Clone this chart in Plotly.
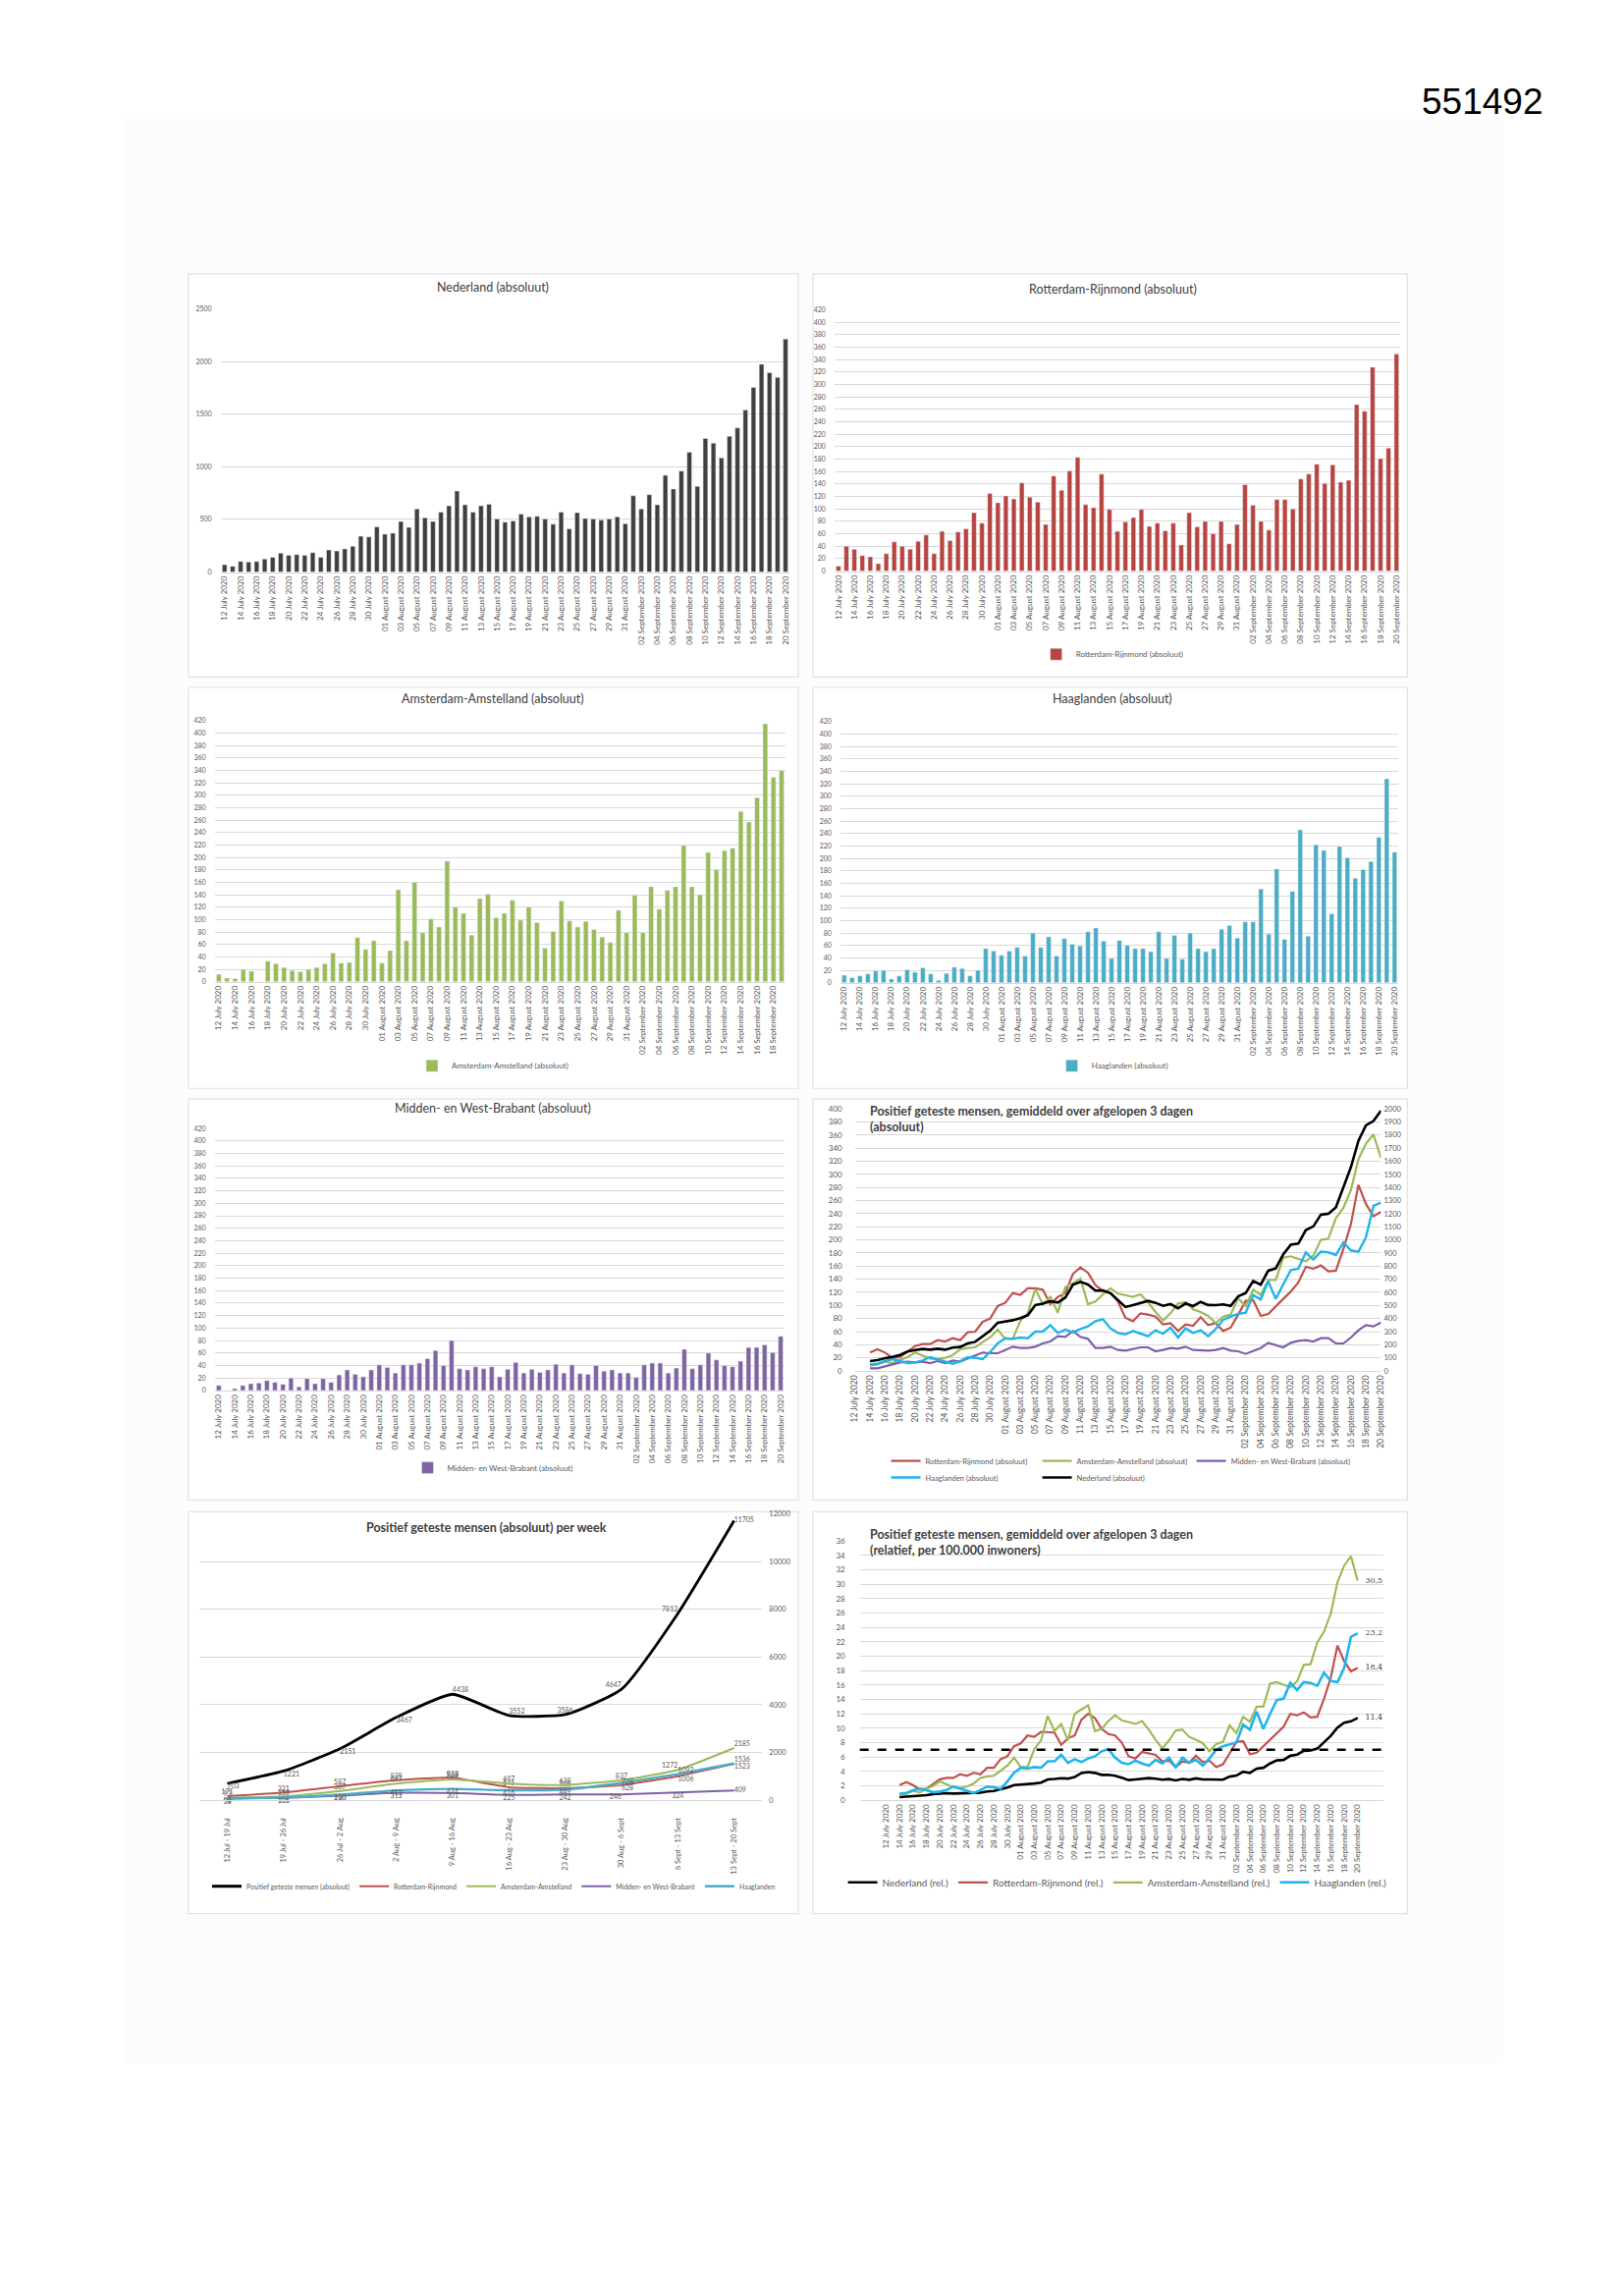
import pandas as pd
import plotly.graph_objects as go

W, H = 1654, 2338

# categorieen (x-as)
DATUMS = [d.strftime("%d %B %Y") for d in pd.date_range("2020-07-12", "2020-09-20")]
DATUMS_AA = DATUMS[:70]  # Amsterdam-Amstelland staat t/m 19 september in de grafiek
WEKEN = ["12 Jul - 19 Jul", "19 Jul - 26 Jul", "26 Jul - 2 Aug", "2 Aug - 9 Aug",
         "9 Aug - 16 Aug", "16 Aug - 23 Aug", "23 Aug - 30 Aug", "30 Aug - 6 Sept",
         "6 Sept - 13 Sept", "13 Sept - 20 Sept"]

# positief geteste mensen per dag (absoluut)
NL_DAG = [70, 55, 100, 95, 100, 125, 140, 180, 160, 165, 160, 185, 140, 210, 200, 220, 245, 340, 335, 430,
          360, 370, 480, 425, 600, 515, 480, 570, 630, 770, 640, 570, 630, 645, 505, 475, 485, 550, 525, 530,
          505, 455, 570, 410, 565, 510, 505, 495, 505, 525, 460,
          725, 600, 735, 640, 920, 790, 960, 1140, 815, 1270, 1225, 1085, 1290, 1370, 1540, 1755, 1975, 1895, 1850, 2215]
RR_DAG = [8, 40, 35, 25, 23, 12, 28, 47, 40, 35, 48, 58, 28, 64, 49, 63, 68, 94, 77, 125,
          110, 121, 116, 142, 119, 111, 75, 153, 130, 161, 183, 107, 102, 156, 99, 64, 79, 86, 99, 72,
          77, 65, 77, 42, 94, 71, 80, 60, 80, 44, 75,
          139, 106, 80, 66, 115, 115, 100, 148, 156, 172, 141, 171, 143, 146, 268, 257, 328, 181, 198, 349]
AA_DAG = [12, 6, 5, 20, 17, 0, 33, 29, 23, 18, 16, 20, 23, 29, 46, 30, 31, 71, 52, 66,
          30, 50, 148, 66, 160, 79, 101, 88, 194, 120, 110, 75, 134, 141, 103, 110, 131, 99, 120, 95,
          54, 81, 130, 98, 88, 97, 84, 72, 63, 115, 79,
          139, 79, 153, 117, 147, 153, 219, 153, 140, 208, 180, 211, 215, 274, 257, 296, 415, 329, 340]
HL_DAG = [12, 8, 11, 14, 19, 20, 6, 11, 21, 17, 24, 14, 4, 15, 25, 23, 11, 20, 55, 51,
          44, 51, 57, 43, 80, 57, 74, 43, 71, 62, 59, 82, 88, 67, 39, 68, 60, 55, 55, 50,
          82, 39, 76, 38, 80, 55, 50, 55, 86, 92, 72,
          98, 98, 151, 78, 183, 70, 147, 246, 75, 222, 213, 111, 219, 201, 168, 182, 195, 234, 328, 210]
MWB_DAG = [8, 0, 3, 8, 11, 12, 16, 13, 10, 20, 6, 19, 11, 19, 13, 25, 33, 26, 22, 33,
           41, 37, 28, 41, 41, 44, 51, 64, 40, 80, 35, 33, 38, 35, 38, 22, 34, 45, 28, 34,
           29, 33, 42, 28, 41, 27, 26, 40, 31, 33, 28,
           28, 21, 41, 44, 44, 28, 36, 66, 35, 41, 60, 49, 40, 38, 47, 69, 69, 73, 61, 87]

# gemiddeld over afgelopen 3 dagen (absoluut), eerste twee dagen leeg
NL_3D = [None, None, 75, 83, 98, 107, 122, 148, 160, 168, 162, 170, 162, 178, 183, 210, 222, 268, 307, 368,
         375, 387, 403, 425, 502, 513, 532, 522, 560, 657, 680, 660, 613, 615, 593, 542, 488, 503, 520, 535,
         520, 497, 510, 478, 515, 495, 527, 503, 502, 508, 497,
         570, 595, 687, 658, 765, 783, 890, 963, 972, 1075, 1103, 1193, 1200, 1248, 1400, 1555, 1757, 1875, 1907, 1987]
RR_3D = [None, None, 28, 33, 28, 20, 21, 29, 38, 41, 41, 47, 45, 50, 47, 59, 60, 75, 80, 99,
         104, 119, 116, 126, 126, 124, 102, 113, 119, 148, 158, 150, 131, 122, 119, 106, 81, 76, 88, 86,
         83, 71, 73, 61, 71, 69, 82, 70, 73, 61, 66,
         86, 107, 108, 84, 87, 99, 110, 121, 135, 159, 156, 161, 152, 153, 186, 224, 284, 255, 236, 243]
AA_3D = [None, None, 8, 10, 14, 12, 17, 21, 28, 23, 19, 18, 20, 24, 33, 35, 36, 44, 51, 63,
         49, 49, 76, 88, 125, 102, 113, 89, 128, 134, 141, 102, 106, 117, 126, 118, 115, 113, 117, 105,
         90, 77, 88, 103, 105, 94, 90, 84, 73, 83, 86,
         111, 99, 124, 116, 139, 139, 173, 175, 171, 167, 176, 200, 202, 233, 249, 276, 323, 347, 361, 325]
HL_3D = [None, None, 10, 11, 15, 18, 15, 12, 13, 16, 21, 18, 14, 11, 15, 21, 20, 18, 29, 42,
         50, 49, 51, 50, 60, 60, 70, 58, 63, 59, 64, 68, 76, 79, 65, 58, 56, 61, 57, 53,
         62, 57, 66, 51, 65, 58, 62, 53, 64, 78, 83,
         87, 89, 116, 109, 137, 110, 133, 154, 156, 181, 170, 182, 181, 177, 196, 184, 182, 204, 252, 257]
MWB_3D = [None, None, 4, 4, 7, 10, 13, 14, 13, 14, 12, 15, 12, 16, 14, 19, 24, 28, 27, 27,
          32, 37, 35, 35, 37, 42, 45, 53, 52, 61, 52, 49, 35, 35, 37, 32, 31, 34, 36, 36,
          30, 32, 35, 34, 37, 32, 31, 31, 32, 35, 31,
          30, 26, 30, 35, 43, 39, 36, 43, 46, 47, 45, 50, 50, 42, 42, 51, 62, 70, 68, 74]

# gemiddeld over afgelopen 3 dagen, per 100.000 inwoners
NL_REL = [None, None, 0.43, 0.48, 0.56, 0.61, 0.70, 0.85, 0.92, 0.97, 0.93, 0.98, 0.93, 1.02, 1.05, 1.21, 1.28, 1.54, 1.76, 2.11,
          2.16, 2.22, 2.32, 2.44, 2.89, 2.95, 3.06, 3.00, 3.22, 3.78, 3.91, 3.79, 3.52, 3.53, 3.41, 3.11, 2.80, 2.89, 2.99, 3.07,
          2.99, 2.86, 2.93, 2.75, 2.96, 2.84, 3.03, 2.89, 2.89, 2.92, 2.86,
          3.28, 3.42, 3.95, 3.78, 4.40, 4.50, 5.11, 5.53, 5.59, 6.18, 6.34, 6.86, 6.90, 7.17, 8.05, 8.94, 10.10, 10.78, 10.96, 11.42]
RR_REL = [None, None, 2.1, 2.5, 2.1, 1.5, 1.6, 2.2, 2.9, 3.1, 3.1, 3.6, 3.4, 3.8, 3.6, 4.5, 4.5, 5.7, 6.1, 7.5,
          7.9, 9.0, 8.8, 9.5, 9.5, 9.4, 7.7, 8.6, 9.0, 11.2, 12.0, 11.4, 9.9, 9.2, 9.0, 8.0, 6.1, 5.8, 6.7, 6.5,
          6.3, 5.4, 5.5, 4.6, 5.4, 5.2, 6.2, 5.3, 5.5, 4.6, 5.0,
          6.5, 8.1, 8.2, 6.4, 6.6, 7.5, 8.3, 9.2, 10.2, 12.0, 11.8, 12.2, 11.5, 11.6, 14.1, 17.0, 21.5, 19.3, 17.9, 18.4]
AA_REL = [None, None, 0.8, 0.9, 1.3, 1.1, 1.6, 2.0, 2.6, 2.2, 1.8, 1.7, 1.9, 2.3, 3.1, 3.3, 3.4, 4.1, 4.8, 5.9,
          4.6, 4.6, 7.1, 8.3, 11.7, 9.6, 10.6, 8.3, 12.0, 12.6, 13.2, 9.6, 9.9, 11.0, 11.8, 11.1, 10.8, 10.6, 11.0, 9.8,
          8.4, 7.2, 8.3, 9.7, 9.8, 8.8, 8.4, 7.9, 6.8, 7.8, 8.1,
          10.4, 9.3, 11.6, 10.9, 13.0, 13.0, 16.2, 16.4, 16.0, 15.7, 16.5, 18.8, 18.9, 21.9, 23.4, 25.9, 30.3, 32.6, 33.9, 30.5]
HL_REL = [None, None, 0.9, 1.0, 1.4, 1.6, 1.4, 1.1, 1.2, 1.4, 1.9, 1.6, 1.3, 1.0, 1.4, 1.9, 1.8, 1.6, 2.6, 3.8,
          4.5, 4.4, 4.6, 4.5, 5.4, 5.4, 6.3, 5.2, 5.7, 5.3, 5.8, 6.1, 6.8, 7.1, 5.9, 5.2, 5.0, 5.5, 5.1, 4.8,
          5.6, 5.1, 5.9, 4.6, 5.9, 5.2, 5.6, 4.8, 5.8, 7.0, 7.5,
          7.8, 8.0, 10.5, 9.8, 12.3, 9.9, 12.0, 13.9, 14.1, 16.3, 15.3, 16.4, 16.3, 15.9, 17.7, 16.6, 16.4, 18.4, 22.7, 23.2]
SIGNAALWAARDE = 7

# per week (absoluut)
NL_WEEK = [703, 1221, 2151, 3467, 4438, 3552, 3586, 4647, 7812, 11705]
RR_WEEK = [171, 321, 587, 839, 938, 545, 505, 628, 1006, 1523]
AA_WEEK = [93, 158, 387, 697, 868, 697, 638, 837, 1272, 2185]
MWB_WEEK = [58, 101, 190, 313, 301, 225, 242, 246, 324, 409]
HL_WEEK = [90, 106, 230, 413, 474, 416, 449, 728, 1092, 1536]

GRID = "#d9d9d9"
TICK = "#595959"
FONT = "Lato"


def fx(x):
    return x / W


def fy(y):
    return 1 - y / H


def ax_id(letter, n):
    return letter if n == 1 else f"{letter}{n}"


def datum_as(n, left, right, cats, size=8):
    return dict(domain=[fx(left), fx(right)], anchor=ax_id("y", n), type="category",
                categoryorder="array", categoryarray=cats, tickmode="array",
                tickvals=cats[::2], tickangle=-90, tickfont=dict(size=size, color=TICK),
                showline=True, linecolor=GRID, showgrid=False, ticks="")


def waarde_as(n, top, bottom, ymax, step, size=7, standoff=8, **kw):
    d = dict(domain=[fy(bottom), fy(top)], anchor=ax_id("x", n), range=[0, ymax], dtick=step,
             tickformat="d", tickfont=dict(size=size, color=TICK), gridcolor=GRID,
             zeroline=False, showline=False, ticks="", ticklabelstandoff=standoff)
    d.update(kw)
    return d


fig = go.Figure()
layout = {}

# --- staafgrafieken per dag ---
staven = [
    (1, NL_DAG, DATUMS, "#3f3f3f", "Nederland (absoluut)", None, (221, 804, 311, 580), 2500, 500),
    (2, RR_DAG, DATUMS, "#b8443f", "Rotterdam-Rijnmond (absoluut)", "legend", (850, 1430, 312, 579), 420, 20),
    (3, AA_DAG, DATUMS_AA, "#9bbb59", "Amsterdam-Amstelland (absoluut)", "legend2", (215, 800, 732, 999), 420, 20),
    (4, HL_DAG, DATUMS, "#4bacc6", "Haaglanden (absoluut)", "legend3", (856, 1428, 733, 1000), 420, 20),
    (5, MWB_DAG, DATUMS, "#8064a2", "Midden- en West-Brabant (absoluut)", "legend4", (215, 799, 1149, 1417), 420, 20),
]
for n, vals, cats, kleur, naam, leg, (l, r, t, b), ymax, step in staven:
    fig.add_trace(go.Bar(x=cats, y=vals, name=naam, marker_color=kleur,
                         xaxis=ax_id("x", n), yaxis=ax_id("y", n),
                         showlegend=leg is not None, legend=leg or "legend"))
    layout[ax_id("xaxis", n)] = datum_as(n, l, r, cats)
    layout[ax_id("yaxis", n)] = waarde_as(n, t, b, ymax, step)

# --- 3-daags gemiddelde (absoluut) ---
lijnen_3d = [
    (RR_3D, "Rotterdam-Rijnmond (absoluut)", "#c0504d", "y6", "legend5", 2.2),
    (AA_3D, "Amsterdam-Amstelland (absoluut)", "#9bbb59", "y6", "legend6", 2.2),
    (MWB_3D, "Midden- en West-Brabant (absoluut)", "#7f5fa8", "y6", "legend7", 2.2),
    (HL_3D, "Haaglanden (absoluut)", "#1fb4ec", "y6", "legend8", 2.4),
    (NL_3D, "Nederland (absoluut)", "#000000", "y9", "legend9", 2.6),
]
for vals, naam, kleur, yas, leg, breedte in lijnen_3d:
    fig.add_trace(go.Scatter(x=DATUMS, y=vals, name=naam, mode="lines",
                             line=dict(color=kleur, width=breedte),
                             xaxis="x6", yaxis=yas, legend=leg))
layout["xaxis6"] = datum_as(6, 871, 1410, DATUMS, size=8.5)
layout["yaxis6"] = waarde_as(6, 1129, 1397, 400, 20, size=8, standoff=12)
layout["yaxis9"] = dict(overlaying="y6", side="right", anchor="x6", range=[0, 2000], dtick=100,
                        tickformat="d", tickfont=dict(size=7.5, color=TICK), showgrid=False,
                        zeroline=False, showline=False, ticks="", ticklabelstandoff=2)

# --- per week ---
weken = [
    (NL_WEEK, "Positief geteste mensen (absoluut)", "#000000", 2.8,
     ["bottom right", "bottom right", "bottom right", "bottom right", "top right",
      "top right", "top center", "top left", "top left", "middle right"]),
    (RR_WEEK, "Rotterdam-Rijnmond", "#c0504d", 2, ["top center"] * 7 + ["bottom right"] * 3),
    (AA_WEEK, "Amsterdam-Amstelland", "#9bbb59", 2, ["top center"] * 8 + ["top left", "top right"]),
    (MWB_WEEK, "Midden- en West-Brabant", "#7f5fa8", 2,
     ["bottom center"] * 7 + ["bottom left", "bottom center", "middle right"]),
    (HL_WEEK, "Haaglanden", "#4bacc6", 2.4, ["bottom center"] * 7 + ["middle right", "top right", "top right"]),
]
for vals, naam, kleur, breedte, pos in weken:
    fig.add_trace(go.Scatter(x=WEKEN, y=vals, name=naam, mode="lines+text",
                             text=[str(v) for v in vals], textposition=pos,
                             textfont=dict(size=7, color=TICK), cliponaxis=False,
                             line=dict(color=kleur, width=breedte, shape="spline", smoothing=0.5),
                             xaxis="x7", yaxis="y7", legend="legend10"))
layout["xaxis7"] = dict(domain=[fx(199), fx(776)], anchor="y7", type="category",
                        tickangle=-90, tickfont=dict(size=7.5, color=TICK), ticklabelstandoff=14,
                        showline=True, linecolor=GRID, showgrid=False, ticks="")
layout["yaxis7"] = waarde_as(7, 1543, 1836, 12000, 2000, size=7.5, standoff=6, side="right")

# --- relatief per 100.000 inwoners ---
lijnen_rel = [
    (NL_REL, "Nederland (rel.)", "#000000", 2.6),
    (RR_REL, "Rotterdam-Rijnmond (rel.)", "#c0504d", 2.2),
    (AA_REL, "Amsterdam-Amstelland (rel.)", "#9bbb59", 2.2),
    (HL_REL, "Haaglanden (rel.)", "#1fb4ec", 2.6),
]
for vals, naam, kleur, breedte in lijnen_rel:
    label = [""] * (len(vals) - 1) + ["\u00a0\u00a0\u00a0" + f"{vals[-1]:.1f}".replace(".", ",")]
    fig.add_trace(go.Scatter(x=DATUMS, y=vals, name=naam, mode="lines+text",
                             text=label, textposition="middle right", cliponaxis=False,
                             textfont=dict(size=8, color="#404040", family="DejaVu Serif"),
                             line=dict(color=kleur, width=breedte),
                             xaxis="x8", yaxis="y8", legend="legend11"))
layout["xaxis8"] = datum_as(8, 876, 1413, DATUMS)
layout["yaxis8"] = waarde_as(8, 1571, 1836, 36, 2, size=8, standoff=14)
fig.add_shape(type="line", xref="x8 domain", yref="y8", x0=0, x1=1,
              y0=SIGNAALWAARDE, y1=SIGNAALWAARDE, line=dict(color="#000000", width=2.5, dash="dash"))

# --- kaders ---
fig.add_shape(type="rect", xref="paper", yref="paper", x0=fx(120), x1=fx(1535), y0=fy(2105), y1=fy(117),
              fillcolor="#fcfcfc", line=dict(width=0), layer="below")
kaders = [(188, 813, 275, 687), (828, 1437, 275, 687), (188, 813, 698, 1108), (828, 1437, 698, 1108),
          (188, 813, 1119, 1529), (828, 1437, 1119, 1529), (188, 813, 1541, 1952), (828, 1437, 1541, 1952)]
for l, r, t, b in kaders:
    fig.add_shape(type="rect", xref="paper", yref="paper", x0=fx(l), x1=fx(r), y0=fy(b), y1=fy(t),
                  fillcolor="#ffffff", line=dict(color="#e2e2e2", width=1.2), layer="below")

# --- titels ---
titels = [
    ("Nederland (absoluut)", 500, 289, "center", 12.5, False),
    ("Rotterdam-Rijnmond (absoluut)", 1135, 291, "center", 12.5, False),
    ("Amsterdam-Amstelland (absoluut)", 500, 710, "center", 12.5, False),
    ("Haaglanden (absoluut)", 1135, 710, "center", 12.5, False),
    ("Midden- en West-Brabant (absoluut)", 500, 1128, "center", 12.5, False),
    ("Positief geteste mensen, gemiddeld over afgelopen 3 dagen<br>(absoluut)", 884, 1139, "left", 12.5, True),
    ("Positief geteste mensen (absoluut) per week", 493, 1557, "center", 12.5, True),
    ("Positief geteste mensen, gemiddeld over afgelopen 3 dagen<br>(relatief, per 100.000 inwoners)", 884, 1572, "left", 12.5, True),
]
annotaties = []
for tekst, x, y, anker, grootte, vet in titels:
    annotaties.append(dict(text=f"<b>{tekst}</b>" if vet else tekst, x=fx(x), y=fy(y),
                           xref="paper", yref="paper", xanchor=anker, yanchor="middle", align="left",
                           showarrow=False, font=dict(size=grootte, color="#404040")))
annotaties.append(dict(text="551492", x=fx(1514), y=fy(99), xref="paper", yref="paper",
                       xanchor="center", yanchor="middle", showarrow=False,
                       font=dict(size=37, color="#000000", family="Liberation Sans")))


def legenda(x, y, grootte=8, anker="center", **kw):
    d = dict(x=fx(x), y=fy(y), xanchor=anker, yanchor="middle", orientation="h",
             font=dict(size=grootte, color=TICK), bgcolor="rgba(0,0,0,0)", itemwidth=30)
    d.update(kw)
    return d


layout.update(
    width=W, height=H, autosize=False,
    margin=dict(l=0, r=0, t=0, b=0),
    paper_bgcolor="#ffffff", plot_bgcolor="#ffffff",
    font=dict(family=FONT, color=TICK),
    bargap=0.42,
    annotations=annotaties,
    legend=legenda(1135, 664),
    legend2=legenda(500, 1085),
    legend3=legenda(1135, 1085),
    legend4=legenda(500, 1496),
    legend5=legenda(903, 1489, grootte=7.6, anker="left"),
    legend6=legenda(1058, 1489, grootte=7.6, anker="left"),
    legend7=legenda(1216, 1489, grootte=7.6, anker="left"),
    legend8=legenda(903, 1506, grootte=7.6, anker="left"),
    legend9=legenda(1058, 1506, grootte=7.6, anker="left"),
    legend10=legenda(501, 1924, grootte=7),
    legend11=legenda(1140, 1920, grootte=10),
)
fig.update_layout(**layout)

fig.write_html("out.html", config={"displayModeBar": False},
               post_script="document.body.style.margin='0';document.body.style.overflow='hidden';")
